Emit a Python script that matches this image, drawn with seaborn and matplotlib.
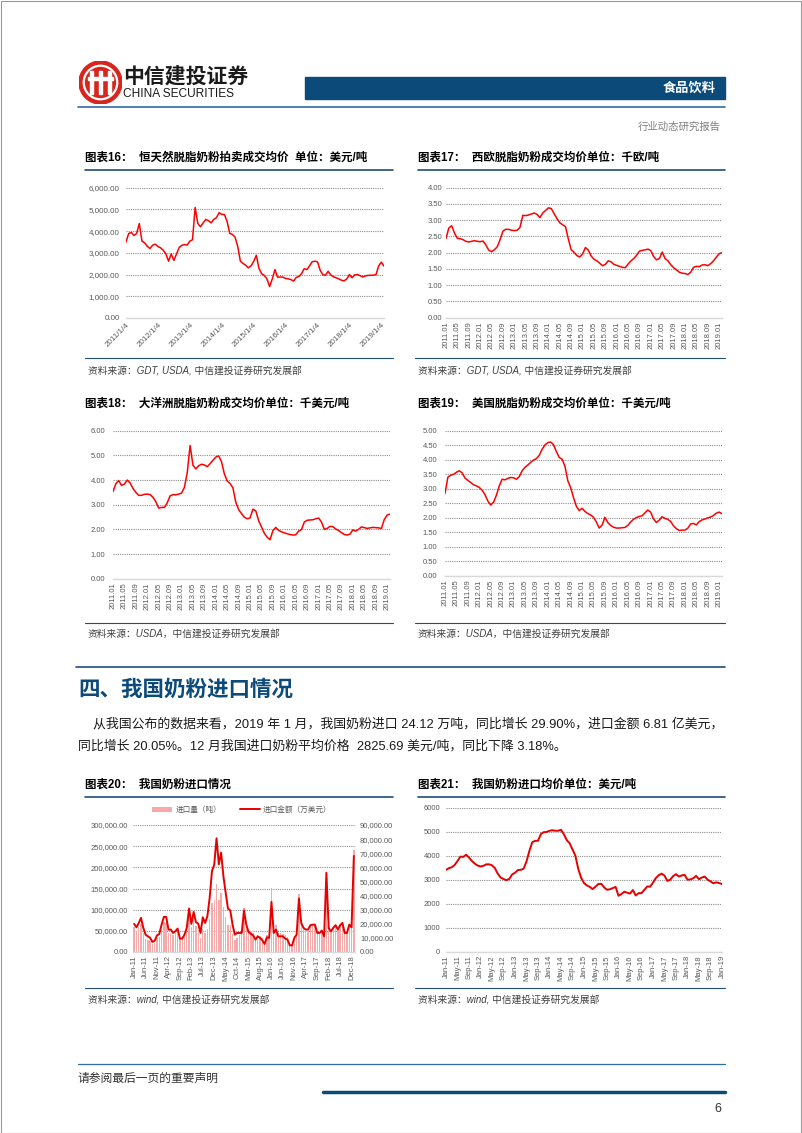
import numpy as np
import pandas as pd
import matplotlib
matplotlib.use('Agg')
import matplotlib.pyplot as plt
import seaborn as sns
from matplotlib.lines import Line2D
from matplotlib.patches import Rectangle, Circle, Patch
from matplotlib.ticker import FuncFormatter

sns.set_theme(style='white')
plt.rcParams['font.family'] = ['Liberation Sans', 'Noto Sans CJK SC', 'DejaVu Sans']
plt.rcParams['axes.unicode_minus'] = False

# ---------------- data ----------------
# chart 16: GDT skim milk powder, USD/t, Jan 2011 - Feb 2019
gdt_smp = [3500, 3890, 3940, 3800, 3890, 4350, 3540, 3460, 3300, 3200, 3350, 3400,
           3290, 3230, 3120, 2950, 2615, 2950, 2650, 2950, 3250, 3350, 3380, 3360,
           3540, 3600, 5090, 4350, 4200, 4380, 4540, 4480, 4380, 4540, 4620, 4850,
           4770, 4760, 4450, 3900, 3850, 3720, 3300, 2615, 2510, 2430, 2310, 2400,
           2600, 2890, 2280, 2040, 1960, 1800, 1450, 1800, 2230, 1880, 1890, 1880,
           1820, 1800, 1770, 1700, 1870, 1910, 2040, 2270, 2230, 2400, 2590, 2615,
           2590, 2200, 1990, 1970, 2150, 1980, 1900, 1850, 1800, 1740, 1710, 1800,
           2000, 1850, 1990, 2000, 1950, 1890, 1940, 1960, 1970, 1970, 2000, 2400,
           2570, 2385]
gdt_ticks = ['2011/1/4', '2012/1/4', '2013/1/4', '2014/1/4', '2015/1/4',
             '2016/1/4', '2017/1/4', '2018/1/4', '2019/1/4']

# chart 17: Western Europe SMP, k EUR/t
eu_smp = [2.44, 2.76, 2.83, 2.60, 2.44, 2.43, 2.40, 2.35, 2.33, 2.35, 2.37, 2.35,
          2.34, 2.36, 2.24, 2.08, 2.03, 2.09, 2.18, 2.40, 2.66, 2.72, 2.72, 2.69,
          2.68, 2.69, 2.78, 3.15, 3.14, 3.16, 3.19, 3.22, 3.18, 3.08, 3.22, 3.30,
          3.38, 3.36, 3.20, 3.05, 2.92, 2.86, 2.80, 2.42, 2.09, 2.01, 1.91, 1.87,
          1.96, 2.16, 2.08, 1.90, 1.80, 1.75, 1.68, 1.60, 1.64, 1.75, 1.72, 1.64,
          1.61, 1.58, 1.55, 1.54, 1.65, 1.75, 1.82, 1.92, 2.05, 2.07, 2.09, 2.11,
          2.06, 1.88, 1.78, 1.82, 2.02, 1.82, 1.75, 1.63, 1.54, 1.47, 1.40, 1.37,
          1.36, 1.33, 1.40, 1.55, 1.58, 1.57, 1.62, 1.63, 1.60, 1.66, 1.75, 1.86,
          1.97, 2.00]

# chart 18: Oceania SMP, k USD/t
oc_smp = [3.53, 3.85, 3.98, 3.78, 3.84, 4.00, 3.88, 3.66, 3.50, 3.38, 3.38, 3.42,
          3.43, 3.41, 3.30, 3.12, 2.86, 2.89, 2.89, 3.08, 3.36, 3.41, 3.40, 3.43,
          3.47, 3.70, 4.30, 5.40, 4.60, 4.45, 4.58, 4.64, 4.61, 4.54, 4.66, 4.80,
          4.93, 4.98, 4.74, 4.25, 3.96, 3.86, 3.68, 3.10, 2.80, 2.64, 2.49, 2.43,
          2.46, 2.82, 2.75, 2.35, 2.10, 1.84, 1.68, 1.58, 1.95, 2.08, 1.96, 1.90,
          1.86, 1.82, 1.79, 1.77, 1.78, 1.93, 1.99, 2.30, 2.37, 2.38, 2.39, 2.43,
          2.46, 2.30, 2.00, 2.04, 2.12, 2.11, 2.02, 1.95, 1.87, 1.79, 1.77, 1.81,
          1.98, 1.93, 2.00, 2.10, 2.07, 2.04, 2.06, 2.08, 2.07, 2.06, 2.04, 2.40,
          2.58, 2.62]

# chart 19: US SMP, k USD/t
us_smp = [2.84, 3.40, 3.47, 3.50, 3.57, 3.62, 3.55, 3.37, 3.29, 3.22, 3.14, 3.10,
          3.05, 2.95, 2.80, 2.58, 2.44, 2.54, 2.78, 3.10, 3.33, 3.31, 3.36, 3.39,
          3.38, 3.33, 3.42, 3.62, 3.74, 3.82, 3.91, 3.99, 4.04, 4.15, 4.36, 4.51,
          4.59, 4.61, 4.52, 4.28, 4.08, 4.02, 3.78, 3.28, 3.04, 2.70, 2.40, 2.25,
          2.33, 2.22, 2.15, 2.10, 2.02, 1.86, 1.65, 1.75, 2.02, 1.84, 1.74, 1.68,
          1.65, 1.65, 1.66, 1.67, 1.74, 1.86, 1.95, 2.01, 2.05, 2.07, 2.17, 2.27,
          2.20, 1.97, 1.84, 1.92, 2.04, 1.98, 1.95, 1.88, 1.73, 1.63, 1.57, 1.58,
          1.58, 1.64, 1.79, 1.81, 1.76, 1.87, 1.93, 1.96, 2.00, 2.03, 2.08, 2.16,
          2.20, 2.14]

# chart 20: China milk powder imports, Jan 2011 - Jan 2019
imp_volume = [58000, 50000, 58000, 67000, 45000, 31000, 28000, 25000, 18000, 21000, 32000, 36000,
              55000, 70000, 68000, 44000, 44000, 39000, 45000, 54000, 31000, 32000, 41000, 53000,
              94000, 59000, 83000, 61000, 53000, 32000, 54000, 45000, 55000, 78000, 115000, 124000,
              160000, 123000, 140000, 107000, 82000, 63000, 63000, 43000, 29000, 34000, 39000, 44000,
              103000, 70000, 53000, 49000, 44000, 31000, 39000, 37000, 32000, 22000, 39000, 37000,
              152000, 56000, 64000, 45000, 46000, 43000, 41000, 36000, 19000, 18000, 37000, 45000,
              138000, 67000, 54000, 49000, 50000, 64000, 65000, 62000, 42000, 43000, 48000, 35000,
              187000, 56000, 48000, 54000, 63000, 51000, 61000, 69000, 46000, 47000, 67000, 61000,
              241200]
imp_value = [19900, 17500, 20500, 24200, 17100, 12300, 11100, 10000, 7100, 8100, 11800, 12800,
             19400, 24900, 24900, 15900, 15900, 13500, 14700, 16600, 9500, 9500, 12300, 17100,
             30800, 19900, 28400, 21100, 20100, 13500, 24600, 20600, 25400, 38400, 57300, 62000,
             80600, 62100, 70400, 53800, 41900, 30800, 29400, 19400, 12300, 13500, 13500, 13500,
             29400, 19400, 14200, 12800, 11800, 8800, 11100, 10000, 8300, 5700, 10400, 10000,
             35500, 13500, 15900, 11100, 11100, 11100, 9500, 8800, 4700, 4700, 10000, 12300,
             37900, 20600, 17100, 15900, 15900, 19000, 19400, 19400, 13500, 13500, 15200, 11100,
             56200, 17000, 14700, 17100, 19000, 15900, 19000, 20600, 13500, 13500, 19400, 17500,
             68100]

# chart 21: China milk powder import unit price, USD/t
imp_price = [3410, 3480, 3520, 3610, 3780, 3960, 3950, 4040, 3920, 3780, 3670, 3590,
             3550, 3580, 3640, 3640, 3600, 3480, 3250, 3090, 3030, 2980, 3030, 3220,
             3290, 3400, 3410, 3460, 3760, 4200, 4560, 4620, 4620, 4900, 4980, 4990,
             5040, 5060, 5040, 5040, 5080, 4890, 4650, 4520, 4260, 4000, 3450, 3080,
             2860, 2760, 2700, 2610, 2710, 2820, 2830, 2680, 2580, 2600, 2650, 2700,
             2330, 2400, 2500, 2460, 2420, 2570, 2340, 2440, 2440, 2580, 2720, 2710,
             2880, 3070, 3190, 3250, 3170, 2950, 3000, 3150, 3230, 3130, 3180, 3200,
             3000, 3010, 3060, 3160, 3020, 3090, 3130, 3000, 2930, 2850, 2890, 2860,
             2820]

RED = '#ff0000'
PINK = '#f6a9a9'
NAVY = '#0c4a7a'
GRID = '#8c8c8c'
TICK = '#595959'

W, H = 802, 1133
fig = plt.figure(figsize=(W / 100, H / 100), dpi=100)
fig.patch.set_facecolor('white')


def px_axes(x0, y0, x1, y1):
    return fig.add_axes([x0 / W, 1 - y1 / H, (x1 - x0) / W, (y1 - y0) / H])


def ftext(x, y, s, **kw):
    kw.setdefault('va', 'center')
    fig.text(x / W, 1 - y / H, s, **kw)


def fline(x0, x1, y, **kw):
    fig.add_artist(Line2D([x0 / W, x1 / W], [1 - y / H, 1 - y / H], **kw))


def style_ax(ax, ymax, ystep, fmt, ypad, size=5.5):
    ax.set_ylim(0, ymax)
    ax.set_yticks(np.arange(0, ymax + ystep / 2, ystep))
    ax.yaxis.set_major_formatter(FuncFormatter(lambda v, p: fmt.format(v)))
    ax.set_axisbelow(True)
    ax.grid(axis='y', color=GRID, linestyle=(0, (1, 1)), linewidth=0.8)
    ax.grid(axis='x', visible=False)
    for s in ['top', 'right', 'left']:
        ax.spines[s].set_visible(False)
    ax.spines['bottom'].set_color('#d9d9d9')
    ax.spines['bottom'].set_linewidth(1.0)
    ax.tick_params(axis='both', length=0, labelsize=size, labelcolor=TICK)
    ax.tick_params(axis='y', pad=ypad)
    ax.tick_params(axis='x', pad=2.5)
    ax.set_xlabel('')
    ax.set_ylabel('')
    ax.set_facecolor('none')


def chart_title(x, y, s, x_end=None, y_line=None):
    ftext(x, y, s, fontsize=8.3, fontweight='bold', color='black')
    if y_line is not None:
        fline(x, x_end, y_line, color='#1f4e79', linewidth=1.2)


def source(x, y, s):
    ftext(x, y, s, fontsize=7, style='italic', color='#404040')


# ---------------- page header ----------------
logo = px_axes(79, 61, 122, 104)
logo.set_xlim(-1, 1)
logo.set_ylim(-1, 1)
logo.set_aspect('equal')
logo.axis('off')
logo.add_patch(Circle((0, 0), 1.0, color='#d7261e'))
logo.add_patch(Circle((0, 0), 0.78, fill=False, edgecolor='white', linewidth=1.6))
for xb in [-0.42, 0.0, 0.42]:
    logo.add_patch(Rectangle((xb - 0.07, -0.55), 0.14, 1.1, color='white'))
logo.add_patch(Rectangle((-0.6, 0.12), 1.2, 0.12, color='white'))

ftext(123, 76, '中信建投证券', fontsize=15, fontweight='bold', color='#1a1a1a')
ftext(123, 94, 'CHINA SECURITIES', fontsize=8.6, color='#1a1a1a')
fig.add_artist(Rectangle((305 / W, 1 - 99 / H), 420 / W, 22 / H, color=NAVY,
                         transform=fig.transFigure))
ftext(716, 89, '食品饮料', fontsize=9.5, fontweight='bold', color='white', ha='right')
fline(78, 725, 107, color='#2e6da4', linewidth=1.2)
ftext(721, 127, '行业动态研究报告', fontsize=7.5, color='#7f7f7f', ha='right')

# ---------------- chart 16 ----------------
chart_title(85, 158, '图表16：  恒天然脱脂奶粉拍卖成交均价  单位：美元/吨', 393, 170)
ax = px_axes(126, 187.7, 384, 318)
sns.lineplot(x=np.arange(len(gdt_smp)), y=gdt_smp, ax=ax, color=RED, linewidth=1.1)
style_ax(ax, 6000, 1000, '{:,.2f}', 4.5, size=5.8)
ax.set_xlim(0, len(gdt_smp) - 1)
ax.set_xticks(np.arange(0, 97, 12))
ax.set_xticklabels(gdt_ticks, rotation=45, ha='right', rotation_mode='anchor')
fline(85, 393, 358, color='#1f4e79', linewidth=0.8)
source(88, 371, '资料来源：GDT, USDA, 中信建投证券研究发展部')

# ---------------- chart 17 ----------------
chart_title(418, 158, '图表17：  西欧脱脂奶粉成交均价单位：千欧/吨', 725, 170)
ax = px_axes(446, 187.7, 722, 317.7)
sns.lineplot(x=np.arange(len(eu_smp)), y=eu_smp, ax=ax, color=RED, linewidth=1.1)
style_ax(ax, 4.0, 0.5, '{:.2f}', 2.5)
ax.set_xlim(0, len(eu_smp) - 1)
eu_pos = np.arange(0, 97, 4)
ax.set_xticks(eu_pos)
ax.set_xticklabels(pd.date_range('2011-01-01', periods=len(eu_pos), freq='4MS').strftime('%Y.%m'),
                   rotation=90)
fline(415, 725, 358, color='#1f4e79', linewidth=0.8)
source(418, 371, '资料来源：GDT, USDA, 中信建投证券研究发展部')

# ---------------- chart 18 ----------------
chart_title(85, 404, '图表18：  大洋洲脱脂奶粉成交均价单位：千美元/吨')
ax = px_axes(113, 430.7, 390, 578.7)
sns.lineplot(x=np.arange(len(oc_smp)), y=oc_smp, ax=ax, color=RED, linewidth=1.1)
style_ax(ax, 6.0, 1.0, '{:.2f}', 5.5)
ax.set_xlim(0, len(oc_smp) - 1)
ax.set_xticks(eu_pos)
ax.set_xticklabels(pd.date_range('2011-01-01', periods=len(eu_pos), freq='4MS').strftime('%Y.%m'),
                   rotation=90)
fline(85, 393, 623, color='#1f4e79', linewidth=0.8)
source(88, 634, '资料来源：USDA，中信建投证券研究发展部')

# ---------------- chart 19 ----------------
chart_title(418, 404, '图表19：  美国脱脂奶粉成交均价单位：千美元/吨')
ax = px_axes(445, 430.7, 722, 576)
sns.lineplot(x=np.arange(len(us_smp)), y=us_smp, ax=ax, color=RED, linewidth=1.1)
style_ax(ax, 5.0, 0.5, '{:.2f}', 5.5)
ax.set_xlim(0, len(us_smp) - 1)
ax.set_xticks(eu_pos)
ax.set_xticklabels(pd.date_range('2011-01-01', periods=len(eu_pos), freq='4MS').strftime('%Y.%m'),
                   rotation=90)
fline(415, 725, 623, color='#1f4e79', linewidth=0.8)
source(418, 634, '资料来源：USDA，中信建投证券研究发展部')

# ---------------- section text ----------------
fline(76, 725, 667, color='#1f4e79', linewidth=1.2)
ftext(78, 690, '四、我国奶粉进口情况', fontsize=15.5, fontweight='bold', color='#0c4a7a')
ftext(93, 724, '从我国公布的数据来看，2019 年 1 月，我国奶粉进口 24.12 万吨，同比增长 29.90%，'
               '进口金额 6.81 亿美元，', fontsize=9.3, color='#1a1a1a')
ftext(78, 746, '同比增长 20.05%。12 月我国进口奶粉平均价格  2825.69 美元/吨，同比下降 3.18%。',
      fontsize=9.3, color='#1a1a1a')

# ---------------- chart 20 ----------------
chart_title(85, 785, '图表20：  我国奶粉进口情况', 393, 797)
idx = np.arange(len(imp_volume))
ax = px_axes(133, 825, 355, 952)
sns.barplot(x=idx, y=imp_volume, ax=ax, color=PINK, saturation=1, width=0.6,
            errorbar=None, linewidth=0, edgecolor='none')
style_ax(ax, 300000, 50000, '{:,.2f}', 3.6)
ax2 = ax.twinx()
sns.lineplot(x=idx, y=imp_value, ax=ax2, color='#e60000', linewidth=1.4)
ax2.set_ylim(0, 90000)
ax2.set_yticks(np.arange(0, 90001, 10000))
ax2.yaxis.set_major_formatter(FuncFormatter(lambda v, p: '{:,.2f}'.format(v)))
ax2.tick_params(axis='y', length=0, labelsize=5.5, labelcolor=TICK, pad=3.6)
ax2.grid(False)
for s in ['top', 'right', 'left', 'bottom']:
    ax2.spines[s].set_visible(False)
ax2.set_ylabel('')
ax.set_xlim(-0.5, len(idx) - 0.5)
pos20 = np.arange(0, 96, 5)
ax.set_xticks(pos20)
ax.set_xticklabels(pd.date_range('2011-01-01', periods=len(pos20), freq='5MS').strftime('%b-%y'),
                   rotation=90)
fig.legend(handles=[Patch(facecolor=PINK, edgecolor='none'),
                    Line2D([], [], color='#e60000', linewidth=1.4)],
           labels=['进口量（吨）', '进口金额（万美元）'], loc='center',
           bbox_to_anchor=(242 / W, 1 - 810 / H), ncol=2, frameon=False,
           fontsize=5.5, labelcolor=TICK, handlelength=2.6, handleheight=0.6,
           columnspacing=2.5, handletextpad=0.4)
fline(85, 393, 988, color='#1f4e79', linewidth=0.8)
source(88, 1000, '资料来源：wind, 中信建投证券研究发展部')

# ---------------- chart 21 ----------------
chart_title(418, 785, '图表21：  我国奶粉进口均价单位：美元/吨', 725, 797)
ax = px_axes(446, 807.7, 722, 951.7)
sns.lineplot(x=np.arange(len(imp_price)), y=imp_price, ax=ax, color='#e60000', linewidth=1.4)
style_ax(ax, 6000, 1000, '{:.0f}', 4.3)
ax.set_xlim(0, len(imp_price) - 1)
pos21 = np.arange(0, 97, 4)
ax.set_xticks(pos21)
ax.set_xticklabels(pd.date_range('2011-01-01', periods=len(pos21), freq='4MS').strftime('%b-%y'),
                   rotation=90)
fline(415, 725, 988, color='#1f4e79', linewidth=0.8)
source(418, 1000, '资料来源：wind, 中信建投证券研究发展部')

# ---------------- footer ----------------
fline(78, 725, 1064, color='#2e6da4', linewidth=0.9)
ftext(78, 1079, '请参阅最后一页的重要声明', fontsize=8.5, color='#333333')
fline(323, 725, 1092, color=NAVY, linewidth=2.5)
ftext(721, 1109, '6', fontsize=9, color='#333333', ha='right')

# page border
fig.add_artist(Rectangle((0.5 / W, 0.5 / H), 1 - 1.5 / W, 1 - 1.5 / H, fill=False,
                         edgecolor='#9a9a9a', linewidth=0.8, transform=fig.transFigure))

fig.savefig('out.png', dpi=100)
